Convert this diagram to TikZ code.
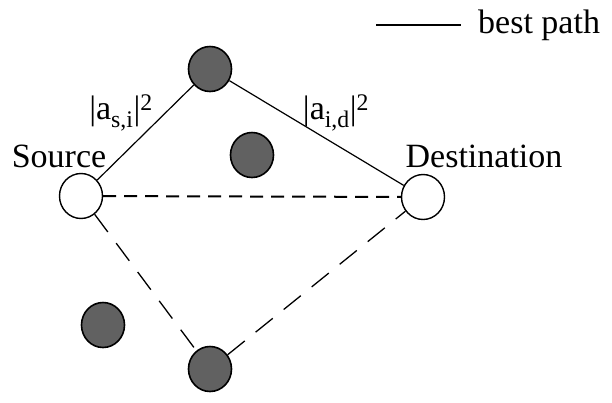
\documentclass[tikz,border=0pt]{standalone}
\usepackage{fontspec}
\setmainfont{Liberation Serif}
\usetikzlibrary{shapes.geometric}
\begin{document}
\begin{tikzpicture}[x=1pt,y=-1pt,
  relay/.style={ellipse,draw=black,line width=1.6pt,fill=black!62,minimum width=43pt,minimum height=45pt,inner sep=0pt},
  endpt/.style={ellipse,draw=black,line width=1.4pt,fill=white,minimum width=43pt,minimum height=45pt,inner sep=0pt},
  lbl/.style={font=\fontsize{34}{36}\selectfont,inner sep=0pt},
  best/.style={line width=1.2pt},
  dashA/.style={line width=2pt,dash pattern=on 13pt off 8pt},
  dashB/.style={line width=1.3pt,dash pattern=on 22pt off 14pt}]
\useasboundingbox (0,0) rectangle (612,402);
\node[relay] (top) at (210,69) {};
\node[relay] (mid) at (252,155) {};
\node[endpt] (src) at (81,196) {};
\node[endpt] (dst) at (423,197) {};
\node[relay] (bl) at (103,325) {};
\node[relay] (bot) at (210,369) {};
\draw[best] (src) -- (top);
\draw[best] (top) -- (dst);
\draw[dashA] (src) -- (dst);
\draw[dashB] (src) -- (bot);
\draw[dashB] (bot) -- (dst);
\node[lbl] (srcl) at (59,156) {Source};
\node[lbl] (dstl) at (484,156) {Destination};
\node[lbl] (asi) at (121,113) {|a\textsubscript{s,i}|\textsuperscript{2}};
\node[lbl] (aid) at (336,113) {|a\textsubscript{i,d}|\textsuperscript{2}};
\coordinate (la) at (376,25);
\coordinate (lb) at (461,25);
\draw[line width=1.6pt] (la) -- (lb);
\node[lbl,anchor=west] (bp) at (478,25) {best path};
\end{tikzpicture}
\end{document}
